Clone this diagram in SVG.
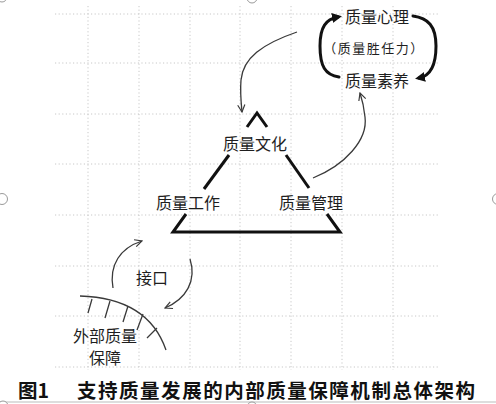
<svg xmlns="http://www.w3.org/2000/svg" width="496" height="404" viewBox="0 0 496 404">
<defs>
<style>
.grid{stroke:#c8c8c8;stroke-width:1;stroke-dasharray:1.2 2.4;fill:none}
.lbl{font-family:"Noto Sans CJK SC","Noto Sans",sans-serif;font-size:16px;fill:#1e1e1e;text-anchor:middle;dominant-baseline:central}
.cap{font-family:"Noto Sans CJK SC",sans-serif;font-size:19.5px;font-weight:bold;fill:#111;dominant-baseline:central}
.tri{stroke:#111;stroke-width:3;fill:none;stroke-linecap:butt}
.thin{stroke:#3a3a3a;stroke-width:1.3;fill:none}
.thick{stroke:#111;stroke-width:3;fill:none;stroke-linecap:round}
.handle{fill:#fff;stroke:#9a9a9a;stroke-width:1}
</style>
<marker id="ah" viewBox="0 0 10 10" refX="9" refY="5" markerWidth="9" markerHeight="9" orient="auto" markerUnits="userSpaceOnUse">
<path d="M1,1 L9,5 L1,9" fill="none" stroke="#3a3a3a" stroke-width="1.3"/>
</marker>
<marker id="ahb" viewBox="0 0 10 10" refX="6" refY="5" markerWidth="10" markerHeight="10" orient="auto" markerUnits="userSpaceOnUse">
<path d="M0,0 L10,5 L0,10 Z" fill="#111"/>
</marker>
</defs>
<rect width="496" height="404" fill="#fff"/>
<g id="grid">
<path class="grid" d="M88,6V370M139,6V370M190,6V370M240,6V370M291,6V370M342,6V370M393,6V370"/>
<path class="grid" d="M55,14H440M55,63H440M55,114H440M55,164H440M55,215H440M55,266H440M55,316H440M55,367H440"/>
</g>
<g id="triangle">
<path class="tri" d="M247,127L257,113L267,127"/>
<path class="tri" d="M229,155L204,189"/>
<path class="tri" d="M286,155L309,188"/>
<path class="tri" d="M186,214L173,232H340L327,214"/>
</g>
<g id="connectors">
<path class="thin" d="M297,32C262,44 243,58 241,80C240,92 241,102 242,112" marker-end="url(#ah)"/>
<path class="thin" d="M313,178C345,165 368,140 365,117C364,107 362,99 360,93" marker-end="url(#ah)"/>
<path class="thin" d="M113,288C109,265 120,248 142,241" marker-end="url(#ah)"/>
<path class="thin" d="M190,259C197,281 186,299 165,308" marker-end="url(#ah)"/>
<path class="thick" d="M339,77C325,75 320,66 320,46C320,27 326,19 338,17" marker-end="url(#ahb)"/>
<path class="thick" d="M413,16C428,18 436,26 436,46C436,66 430,76 419,78" marker-end="url(#ahb)"/>
</g>
<g id="n-xinli"><text class="lbl" x="377" y="16">质量心理</text></g>
<g id="n-shengren"><text class="lbl" x="374" y="47" style="font-size:13px;letter-spacing:1.5px">（质量胜任力）</text></g>
<g id="n-suyang"><text class="lbl" x="377" y="80">质量素养</text></g>
<g id="n-wenhua"><text class="lbl" x="255" y="143">质量文化</text></g>
<g id="n-gongzuo"><text class="lbl" x="188" y="202">质量工作</text></g>
<g id="n-guanli"><text class="lbl" x="311" y="202">质量管理</text></g>
<g id="n-jiekou"><text class="lbl" x="152" y="277">接口</text></g>
<g id="n-waibu">
<path class="thin" d="M80,296Q148,298 166,350"/>
<path class="thin" d="M92,299L88,313M110,301L105,318M128,306L123,322M143,314L137,330M157,328L147,338"/>
<text class="lbl" x="105" y="335">外部质量</text>
<text class="lbl" x="105" y="357">保障</text>
</g>
<g id="caption">
<text class="cap" x="18" y="389">图1</text>
<text class="cap" x="77" y="389" textLength="398">支持质量发展的内部质量保障机制总体架构</text>
</g>
<g id="frame">
<line x1="0" y1="402" x2="496" y2="402" stroke="#bbb" stroke-width="1"/>
<circle class="handle" cx="2" cy="-3" r="5"/>
<circle class="handle" cx="252" cy="-2" r="5"/>
<circle class="handle" cx="2" cy="199" r="5.5"/>
<circle class="handle" cx="498" cy="199" r="5.5"/>
<circle class="handle" cx="3" cy="406" r="5"/>
<circle class="handle" cx="252" cy="407" r="5"/>
</g>
</svg>
